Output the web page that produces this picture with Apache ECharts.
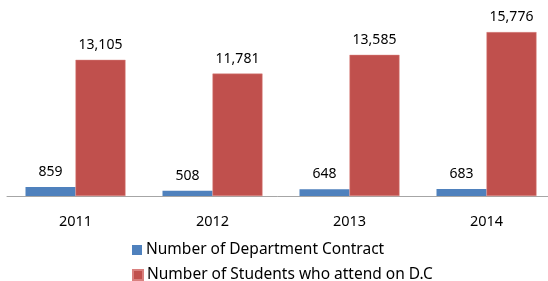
<!DOCTYPE html>
<html>
<head>
<meta charset="utf-8">
<script src="https://cdn.jsdelivr.net/npm/echarts@6/dist/echarts.min.js"></script>
<style>
  html, body { margin: 0; padding: 0; background: #fff; }
  #chart { width: 548px; height: 281px; }
</style>
</head>
<body>
<div id="chart"></div>
<script>
const years = ['2011', '2012', '2013', '2014'];
const contracts = [859, 508, 648, 683];
const students = [13105, 11781, 13585, 15776];
const seriesNames = ['Number of Department Contract', 'Number of Students who attend on D.C'];

const chart = echarts.init(document.getElementById('chart'));

const labelStyle = {
  show: true,
  position: 'top',
  distance: 8,
  color: '#000',
  fontSize: 14,
  fontFamily: 'Noto Sans',
  formatter: (p) => p.value.toLocaleString('en-US')
};

// one legend per row so they stack like the original
const legendRow = (name, top) => ({
  left: 132,
  top: top,
  padding: 0,
  itemWidth: 10,
  itemHeight: 10,
  icon: 'rect',
  textStyle: {fontSize: 15.5, color: '#000', padding: [0, 0, 0, -1]},
  data: [name]
});

chart.setOption({
  animation: false,
  textStyle: {fontFamily: 'Noto Sans'},
  grid: {
    left: 7,
    right: -7,
    top: 9,
    height: 187,
    outerBoundsMode: 'none',
    containLabel: false
  },
  legend: [legendRow(seriesNames[0], 242), legendRow(seriesNames[1], 267)],
  xAxis: {
    type: 'category',
    data: years,
    axisLine: {lineStyle: {color: '#a6a6a6', width: 1}},
    axisTick: {show: false},
    axisLabel: {fontSize: 14.5, color: '#000', margin: 18}
  },
  yAxis: {
    type: 'value',
    min: 0,
    max: 18000,
    show: false,
    splitLine: {show: false}
  },
  series: [
    {
      name: seriesNames[0],
      type: 'bar',
      data: contracts,
      barWidth: 50,
      barGap: '0%',
      itemStyle: {color: '#4f81bd'},
      label: labelStyle
    },
    {
      name: seriesNames[1],
      type: 'bar',
      data: students,
      barWidth: 50,
      itemStyle: {color: '#c0504d', borderColor: '#d9807e', borderWidth: 0.5},
      label: labelStyle
    }
  ]
});
</script>
</body>
</html>
